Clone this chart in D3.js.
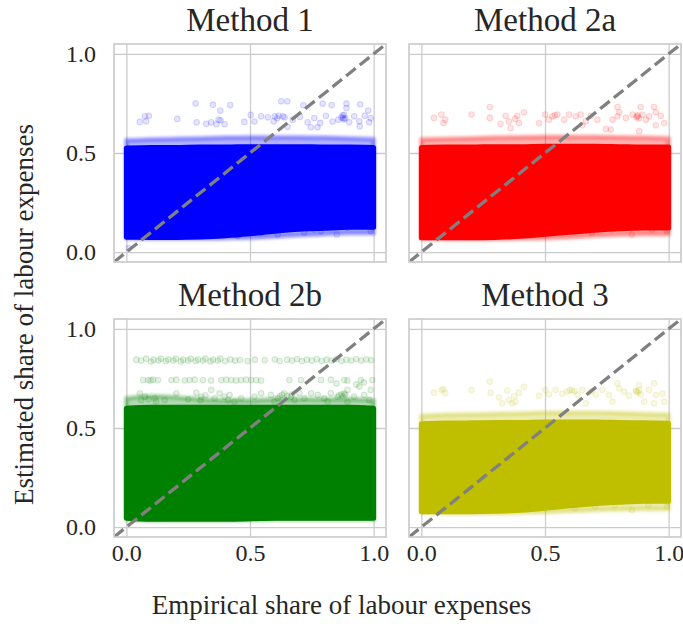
<!DOCTYPE html>
<html>
<head>
<meta charset="utf-8">
<script src="https://cdn.jsdelivr.net/npm/d3@7"></script>
<style>
  body { margin: 0; background: #fff; }
  text { font-family: "Liberation Serif", "DejaVu Serif", serif; fill: #262626; }
</style>
</head>
<body>
<div id="chart"></div>
<script>
// axis ticks shared by every panel
const xTicks = [0, 0.5, 1];
const yTicks = [0, 0.5, 1];
const diagonal = [-0.05, 1.05];

const titles = ['Method 1', 'Method 2a', 'Method 2b', 'Method 3'];
const colors = ['#0000ff', '#ff0000', '#008000', '#bfbf00'];

// the dense body of each cloud: envelope sampled along empirical share
const xKnots = [0, 0.1, 0.2, 0.3, 0.4, 0.5, 0.6, 0.7, 0.8, 0.9, 1];

const m1CoreTop      = [0.525, 0.528, 0.528, 0.53, 0.53, 0.532, 0.532, 0.532, 0.53, 0.53, 0.528];
const m1CoreBottom   = [0.075, 0.074, 0.074, 0.076, 0.082, 0.092, 0.105, 0.115, 0.12, 0.125, 0.125];
const m1FringeTop    = [0.565, 0.57, 0.572, 0.575, 0.578, 0.58, 0.58, 0.58, 0.578, 0.575, 0.57];
const m1FringeBottom = [0.07, 0.068, 0.068, 0.068, 0.07, 0.072, 0.078, 0.085, 0.09, 0.095, 0.095];

const m2aCoreTop      = [0.528, 0.53, 0.53, 0.532, 0.532, 0.534, 0.534, 0.534, 0.532, 0.53, 0.53];
const m2aCoreBottom   = [0.072, 0.072, 0.072, 0.074, 0.08, 0.09, 0.1, 0.11, 0.118, 0.122, 0.122];
const m2aFringeTop    = [0.57, 0.572, 0.575, 0.578, 0.58, 0.582, 0.582, 0.582, 0.58, 0.578, 0.575];
const m2aFringeBottom = [0.068, 0.066, 0.066, 0.066, 0.068, 0.07, 0.075, 0.082, 0.088, 0.09, 0.09];

const m2bCoreTop      = [0.6, 0.605, 0.605, 0.605, 0.605, 0.605, 0.605, 0.605, 0.605, 0.605, 0.6];
const m2bCoreBottom   = [0.045, 0.04, 0.04, 0.04, 0.04, 0.042, 0.045, 0.045, 0.045, 0.045, 0.045];
const m2bFringeTop    = [0.65, 0.66, 0.655, 0.645, 0.64, 0.64, 0.645, 0.645, 0.645, 0.645, 0.64];
const m2bFringeBottom = [0.038, 0.034, 0.034, 0.034, 0.034, 0.036, 0.038, 0.038, 0.038, 0.038, 0.038];

const m3CoreTop      = [0.522, 0.525, 0.526, 0.528, 0.528, 0.53, 0.53, 0.53, 0.528, 0.526, 0.524];
const m3CoreBottom   = [0.078, 0.078, 0.078, 0.08, 0.085, 0.095, 0.108, 0.118, 0.125, 0.13, 0.13];
const m3FringeTop    = [0.562, 0.568, 0.57, 0.572, 0.575, 0.578, 0.578, 0.578, 0.576, 0.572, 0.568];
const m3FringeBottom = [0.072, 0.07, 0.07, 0.07, 0.072, 0.075, 0.08, 0.085, 0.088, 0.09, 0.09];

// thinner stretches inside the body, [from, to, estimated]
const m1Gaps  = [[0.86, 1.0, 0.3], [0.9, 1.0, 0.165]];
const m2aGaps = [[0.9, 1.0, 0.3], [0.0, 0.05, 0.484]];
const m2bGaps = [[0.71, 0.84, 0.229], [0.9, 1.0, 0.25], [0.92, 1.0, 0.225], [0.0, 0.2, 0.475]];
const m3Gaps  = [[0.88, 1.0, 0.3]];

// isolated estimates away from the dense body, [empirical, estimated]
const m1Outliers = [
  [0.28, 0.75], [0.35, 0.744], [0.42, 0.742], [0.38, 0.714], [0.626, 0.761], [0.651, 0.761],
  [0.716, 0.741], [0.794, 0.749], [0.83, 0.742], [0.89, 0.749], [0.946, 0.746], [0.89, 0.727],
  [0.054, 0.657], [0.075, 0.685], [0.091, 0.688], [0.08, 0.66], [0.206, 0.672], [0.284, 0.655],
  [0.323, 0.647], [0.343, 0.655], [0.364, 0.645], [0.381, 0.665], [0.397, 0.645], [0.373, 0.668],
  [0.477, 0.657], [0.503, 0.692], [0.518, 0.659], [0.545, 0.685], [0.572, 0.68], [0.596, 0.66],
  [0.616, 0.688], [0.633, 0.685], [0.652, 0.632], [0.673, 0.668], [0.702, 0.682], [0.733, 0.655],
  [0.76, 0.676], [0.784, 0.652], [0.807, 0.688], [0.834, 0.659], [0.857, 0.668], [0.876, 0.676],
  [0.881, 0.693], [0.901, 0.655], [0.921, 0.685], [0.944, 0.635], [0.942, 0.66], [0.964, 0.688],
  [0.982, 0.655], [0.988, 0.676], [0.978, 0.714], [0.746, 0.63], [0.773, 0.63],
  [0.87, 0.68], [0.88, 0.67], [0.875, 0.69], [0.885, 0.675], [0.6, 0.685], [0.61, 0.675], [0.64, 0.68],
  [0.424, 0.098], [0.451, 0.081], [0.545, 0.098], [0.612, 0.089], [0.659, 0.123], [0.72, 0.098],
  [0.76, 0.114], [0.787, 0.106], [0.851, 0.089], [0.894, 0.123], [0.988, 0.106], [0.01, 0.02]
];

const m2aOutliers = [
  [0.277, 0.732], [0.277, 0.677], [0.203, 0.694], [0.051, 0.677], [0.081, 0.694], [0.097, 0.668],
  [0.089, 0.651], [0.32, 0.647], [0.341, 0.688], [0.354, 0.659], [0.379, 0.672], [0.395, 0.651],
  [0.415, 0.705], [0.388, 0.688], [0.361, 0.626], [0.476, 0.651], [0.501, 0.694], [0.516, 0.668],
  [0.55, 0.694], [0.577, 0.668], [0.597, 0.694], [0.624, 0.685], [0.644, 0.694], [0.665, 0.66],
  [0.685, 0.688], [0.712, 0.668], [0.746, 0.621], [0.766, 0.618], [0.773, 0.668], [0.793, 0.732],
  [0.8, 0.705], [0.793, 0.685], [0.827, 0.677], [0.854, 0.694], [0.874, 0.685], [0.887, 0.732],
  [0.894, 0.694], [0.881, 0.61], [0.908, 0.668], [0.921, 0.685], [0.941, 0.732], [0.948, 0.705],
  [0.968, 0.688], [0.982, 0.651], [0.948, 0.64], [0.651, 0.64], [0.87, 0.68], [0.88, 0.675],
  [0.875, 0.69], [0.53, 0.685], [0.54, 0.69],
  [0.406, 0.098], [0.432, 0.114], [0.608, 0.106], [0.689, 0.098], [0.77, 0.114], [0.851, 0.089],
  [0.932, 0.114], [0.993, 0.106]
];

const m2bOutliers = [
  // upper band
  [0.04, 0.845], [0.06, 0.84], [0.08, 0.85], [0.1, 0.835], [0.11, 0.845], [0.13, 0.84], [0.14, 0.85],
  [0.16, 0.838], [0.17, 0.846], [0.19, 0.84], [0.2, 0.85], [0.22, 0.836], [0.23, 0.845], [0.25, 0.84],
  [0.26, 0.85], [0.28, 0.838], [0.29, 0.846], [0.31, 0.84], [0.32, 0.85], [0.34, 0.836], [0.35, 0.845],
  [0.37, 0.84], [0.38, 0.85], [0.4, 0.838], [0.42, 0.846], [0.44, 0.84], [0.46, 0.843], [0.49, 0.838],
  [0.52, 0.845], [0.56, 0.842], [0.6, 0.846], [0.62, 0.838], [0.65, 0.845], [0.67, 0.84], [0.69, 0.848],
  [0.71, 0.838], [0.73, 0.845], [0.75, 0.84], [0.77, 0.848], [0.79, 0.838], [0.81, 0.845], [0.83, 0.84],
  [0.85, 0.848], [0.87, 0.838], [0.89, 0.845], [0.91, 0.84], [0.93, 0.848], [0.95, 0.84], [0.97, 0.846],
  [0.99, 0.842],
  // middle band
  [0.068, 0.742], [0.088, 0.742], [0.098, 0.74], [0.108, 0.744], [0.128, 0.742], [0.182, 0.742],
  [0.202, 0.744], [0.236, 0.74], [0.256, 0.742], [0.276, 0.744], [0.31, 0.742], [0.343, 0.74],
  [0.384, 0.742], [0.404, 0.744], [0.424, 0.742], [0.444, 0.74], [0.464, 0.742], [0.484, 0.744],
  [0.505, 0.742], [0.525, 0.742], [0.545, 0.74], [0.659, 0.742], [0.706, 0.742], [0.787, 0.742],
  [0.827, 0.744], [0.881, 0.742], [0.894, 0.74], [0.948, 0.742], [0.995, 0.742], [0.85, 0.725],
  [0.93, 0.72], [0.96, 0.73],
  // scattered above the body
  [0.054, 0.675], [0.075, 0.658], [0.115, 0.65], [0.155, 0.641], [0.202, 0.675], [0.283, 0.678],
  [0.303, 0.658], [0.343, 0.692], [0.357, 0.65], [0.377, 0.675], [0.397, 0.658], [0.411, 0.641],
  [0.417, 0.667], [0.437, 0.633], [0.464, 0.65], [0.518, 0.658], [0.545, 0.675], [0.585, 0.667],
  [0.599, 0.633], [0.612, 0.65], [0.639, 0.675], [0.666, 0.658], [0.68, 0.641], [0.7, 0.675],
  [0.72, 0.65], [0.747, 0.675], [0.774, 0.667], [0.8, 0.65], [0.814, 0.633], [0.827, 0.675],
  [0.854, 0.658], [0.881, 0.675], [0.894, 0.692], [0.894, 0.633], [0.921, 0.658], [0.942, 0.709],
  [0.962, 0.667], [0.982, 0.641], [0.988, 0.692], [0.62, 0.66], [0.63, 0.668], [0.65, 0.662],
  [0.67, 0.67], [0.86, 0.665], [0.87, 0.67], [0.875, 0.66], [0.885, 0.668], [0.06, 0.64],
  [0.09, 0.645], [0.12, 0.635], [0.25, 0.645], [0.3, 0.64], [0.32, 0.665]
];

const m3Outliers = [
  [0.277, 0.734], [0.28, 0.678], [0.203, 0.692], [0.051, 0.678], [0.081, 0.692], [0.097, 0.675],
  [0.089, 0.695], [0.314, 0.655], [0.327, 0.625], [0.347, 0.689], [0.354, 0.641], [0.375, 0.661],
  [0.381, 0.633], [0.395, 0.678], [0.415, 0.708], [0.368, 0.625], [0.476, 0.663], [0.501, 0.692],
  [0.516, 0.669], [0.543, 0.692], [0.57, 0.673], [0.59, 0.684], [0.61, 0.692], [0.631, 0.669],
  [0.651, 0.692], [0.665, 0.625], [0.685, 0.684], [0.705, 0.669], [0.732, 0.692], [0.759, 0.666],
  [0.773, 0.633], [0.793, 0.725], [0.8, 0.7], [0.82, 0.684], [0.84, 0.663], [0.867, 0.689],
  [0.881, 0.717], [0.887, 0.669], [0.901, 0.633], [0.921, 0.692], [0.941, 0.725], [0.948, 0.666],
  [0.975, 0.673], [0.982, 0.633], [0.941, 0.625], [0.87, 0.685], [0.88, 0.69], [0.875, 0.68],
  [0.6, 0.69], [0.62, 0.685],
  [0.406, 0.095], [0.432, 0.112], [0.567, 0.103], [0.621, 0.095], [0.702, 0.103], [0.783, 0.112],
  [0.851, 0.086], [0.918, 0.112], [0.993, 0.103]
];

const width = 683, height = 629;
const panelW = 272, panelH = 218;
const colX = [114, 409];
const rowY = [44, 319];

const panels = [
  { title: titles[0], color: colors[0], col: 0, row: 0, gaps: m1Gaps,
    core: [m1CoreBottom, m1CoreTop], fringe: [m1FringeBottom, m1FringeTop], outliers: m1Outliers },
  { title: titles[1], color: colors[1], col: 1, row: 0, gaps: m2aGaps,
    core: [m2aCoreBottom, m2aCoreTop], fringe: [m2aFringeBottom, m2aFringeTop], outliers: m2aOutliers },
  { title: titles[2], color: colors[2], col: 0, row: 1, gaps: m2bGaps,
    core: [m2bCoreBottom, m2bCoreTop], fringe: [m2bFringeBottom, m2bFringeTop], outliers: m2bOutliers },
  { title: titles[3], color: colors[3], col: 1, row: 1, gaps: m3Gaps,
    core: [m3CoreBottom, m3CoreTop], fringe: [m3FringeBottom, m3FringeTop], outliers: m3Outliers }
];

const x = d3.scaleLinear().domain([-0.05, 1.05]).range([0, panelW]);
const y = d3.scaleLinear().domain([-0.05, 1.05]).range([panelH, 0]);

const svg = d3.select('#chart')
  .append('svg')
  .attr('width', width)
  .attr('height', height);

const defs = svg.append('defs');
defs.append('clipPath')
  .attr('id', 'panel-clip')
  .append('rect')
  .attr('width', panelW)
  .attr('height', panelH);
defs.append('filter')
  .attr('id', 'soft')
  .attr('x', '-5%').attr('y', '-20%').attr('width', '110%').attr('height', '140%')
  .append('feGaussianBlur')
  .attr('stdDeviation', 1.3);
defs.append('filter')
  .attr('id', 'haze')
  .attr('x', '-20%').attr('y', '-200%').attr('width', '140%').attr('height', '500%')
  .append('feGaussianBlur')
  .attr('stdDeviation', 1.2);

const band = (lo, hi) => d3.area()
  .x((d, i) => x(xKnots[i]))
  .y0((d, i) => y(lo[i]))
  .y1((d, i) => y(hi[i]))
  .curve(d3.curveMonotoneX)(xKnots);

const fmt = d3.format('.1f');

panels.forEach(p => {
  const g = svg.append('g')
    .attr('transform', `translate(${colX[p.col]},${rowY[p.row]})`);

  // grid lines, with tick labels only on the outer edges
  const yAxis = g.append('g')
    .call(d3.axisLeft(y).tickValues(yTicks).tickSize(-panelW).tickPadding(18)
      .tickFormat(p.col === 0 ? fmt : ''));
  const xAxis = g.append('g')
    .attr('transform', `translate(0,${panelH})`)
    .call(d3.axisBottom(x).tickValues(xTicks).tickSize(-panelH).tickPadding(7)
      .tickFormat(p.row === 1 ? fmt : ''));
  [xAxis, yAxis].forEach(a => {
    a.select('.domain').remove();
    a.selectAll('line').attr('stroke', '#cccccc').attr('stroke-width', 1.3);
    a.selectAll('text')
      .attr('font-family', '"Liberation Serif", serif')
      .attr('font-size', 24)
      .attr('fill', '#262626');
  });

  const plot = g.append('g').attr('clip-path', 'url(#panel-clip)');

  plot.append('path')
    .attr('d', band(p.fringe[0], p.fringe[1]))
    .attr('fill', p.color)
    .attr('fill-opacity', 0.3)
    .attr('stroke', p.color)
    .attr('stroke-opacity', 0.3)
    .attr('stroke-width', 5)
    .attr('stroke-linejoin', 'round')
    .attr('filter', 'url(#soft)');

  plot.append('path')
    .attr('d', band(p.core[0], p.core[1]))
    .attr('fill', p.color)
    .attr('stroke', p.color)
    .attr('stroke-width', 5)
    .attr('stroke-linejoin', 'round');

  plot.selectAll('line.gap')
    .data(p.gaps)
    .join('line')
    .attr('class', 'gap')
    .attr('x1', d => x(d[0]))
    .attr('x2', d => x(d[1]))
    .attr('y1', d => y(d[2]))
    .attr('y2', d => y(d[2]))
    .attr('stroke', '#ffffff')
    .attr('stroke-opacity', 0.35)
    .attr('stroke-width', 2)
    .attr('filter', 'url(#haze)');

  plot.selectAll('circle')
    .data(p.outliers)
    .join('circle')
    .attr('cx', d => x(d[0]))
    .attr('cy', d => y(d[1]))
    .attr('r', 2.8)
    .attr('fill', p.color)
    .attr('fill-opacity', 0.1)
    .attr('stroke', p.color)
    .attr('stroke-opacity', 0.14)
    .attr('stroke-width', 1.1);

  // 45 degree reference line
  plot.append('path')
    .attr('d', d3.line().x(d => x(d)).y(d => y(d))(diagonal))
    .attr('fill', 'none')
    .attr('stroke', '#808080')
    .attr('stroke-width', 3.3)
    .attr('stroke-dasharray', '12.2,5.3');

  g.append('rect')
    .attr('width', panelW)
    .attr('height', panelH)
    .attr('fill', 'none')
    .attr('stroke', '#cccccc')
    .attr('stroke-width', 1.7);

  g.append('text')
    .attr('x', panelW / 2)
    .attr('y', -13)
    .attr('text-anchor', 'middle')
    .attr('font-size', 33)
    .text(p.title);
});

svg.append('text')
  .attr('x', width / 2)
  .attr('y', 614)
  .attr('text-anchor', 'middle')
  .attr('font-size', 27)
  .text('Empirical share of labour expenses');

svg.append('text')
  .attr('transform', `translate(33,${height / 2}) rotate(-90)`)
  .attr('text-anchor', 'middle')
  .attr('font-size', 27)
  .text('Estimated share of labour expenses');
</script>
</body>
</html>
